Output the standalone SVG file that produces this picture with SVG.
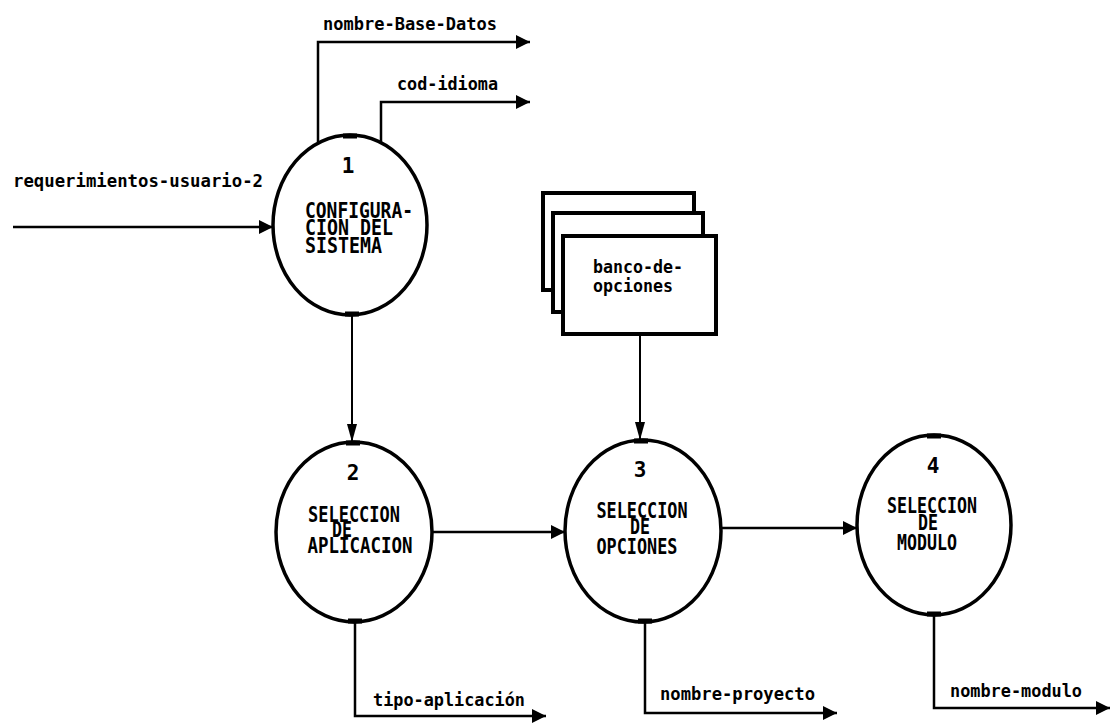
<svg xmlns="http://www.w3.org/2000/svg" width="1112" height="723" viewBox="0 0 1112 723">
<defs>
<style>
.bg{fill:#fff}
.proc{fill:#fff;stroke:#000;stroke-width:3.5}
.tab{fill:none;stroke:#000;stroke-width:5}
.store{fill:#fff;stroke:#000;stroke-width:4}
.flow{fill:none;stroke:#000;stroke-width:2.5}
.thin{fill:none;stroke:#000;stroke-width:2}
.lbl{font-family:"DejaVu Sans Mono","Liberation Mono",monospace;font-weight:bold;font-size:18px;fill:#000}
.ptx{font-family:"DejaVu Sans Mono","Liberation Mono",monospace;font-weight:bold;font-size:21px;fill:#000}
.mid{text-anchor:middle}
</style>
<marker id="ah" markerUnits="userSpaceOnUse" markerWidth="16" markerHeight="16" refX="14" refY="7" orient="auto">
<path d="M0,0 L14,7 L0,14 Z" fill="#000"/>
</marker>
<marker id="ahn" markerUnits="userSpaceOnUse" markerWidth="20" markerHeight="12" refX="18" refY="5" orient="auto">
<path d="M0,0 L18,5 L0,10 Z" fill="#000"/>
</marker>
</defs>
<rect class="bg" x="0" y="0" width="1112" height="723"/>

<g id="connectors">
<path class="flow" d="M318,142 V42 H530" marker-end="url(#ah)"/>
<path class="flow" d="M381,143 V102 H530" marker-end="url(#ah)"/>
<path class="flow" d="M13,227 H273" marker-end="url(#ah)"/>
<path class="thin" d="M352,315 V442" marker-end="url(#ahn)"/>
<path class="flow" d="M432,532 H565" marker-end="url(#ah)"/>
<path class="thin" d="M640,334 V440" marker-end="url(#ahn)"/>
<path class="flow" d="M721,528 H857" marker-end="url(#ah)"/>
<path class="flow" d="M355,622 V716 H546" marker-end="url(#ah)"/>
<path class="flow" d="M645,621 V713 H837" marker-end="url(#ah)"/>
<path class="flow" d="M934,615 V708 H1110" marker-end="url(#ah)"/>
<text class="lbl" x="323" y="30" textLength="174" lengthAdjust="spacingAndGlyphs">nombre-Base-Datos</text>
<text class="lbl" x="397" y="90" textLength="101" lengthAdjust="spacingAndGlyphs">cod-idioma</text>
<text class="lbl" x="13" y="187" textLength="250" lengthAdjust="spacingAndGlyphs">requerimientos-usuario-2</text>
<text class="lbl" x="373" y="706" textLength="152" lengthAdjust="spacingAndGlyphs">tipo-aplicación</text>
<text class="lbl" x="660" y="700" textLength="155" lengthAdjust="spacingAndGlyphs">nombre-proyecto</text>
<text class="lbl" x="950" y="697" textLength="132" lengthAdjust="spacingAndGlyphs">nombre-modulo</text>
</g>

<g id="store-banco">
<rect class="store" x="543" y="193" width="151" height="97"/>
<rect class="store" x="553" y="213" width="150" height="99"/>
<rect class="store" x="563" y="236" width="153" height="98"/>
<text class="lbl" x="593" y="273" textLength="90" lengthAdjust="spacingAndGlyphs">banco-de-</text>
<text class="lbl" x="593" y="292" textLength="80" lengthAdjust="spacingAndGlyphs">opciones</text>
</g>

<g id="proc-1">
<ellipse class="proc" cx="350" cy="225" rx="77" ry="90"/>
<path class="tab" d="M343,136 H357 M345,314 H359"/>
<text class="ptx mid" x="348" y="173">1</text>
<text class="ptx" x="305" y="218" textLength="108" lengthAdjust="spacingAndGlyphs">CONFIGURA-</text>
<text class="ptx" x="305" y="235" textLength="88" lengthAdjust="spacingAndGlyphs">CION DEL</text>
<text class="ptx" x="305" y="253" textLength="77" lengthAdjust="spacingAndGlyphs">SISTEMA</text>
</g>

<g id="proc-2">
<ellipse class="proc" cx="354" cy="532" rx="78" ry="90"/>
<path class="tab" d="M346,443 H360 M348,621 H362"/>
<text class="ptx mid" x="353" y="480">2</text>
<text class="ptx mid" x="354" y="522" textLength="92" lengthAdjust="spacingAndGlyphs">SELECCION</text>
<text class="ptx mid" x="342" y="537" textLength="20" lengthAdjust="spacingAndGlyphs">DE</text>
<text class="ptx mid" x="360" y="553" textLength="105" lengthAdjust="spacingAndGlyphs">APLICACION</text>
</g>

<g id="proc-3">
<ellipse class="proc" cx="643" cy="531" rx="78" ry="91"/>
<path class="tab" d="M634,441 H648 M638,621 H652"/>
<text class="ptx mid" x="640" y="477">3</text>
<text class="ptx mid" x="642" y="518" textLength="91" lengthAdjust="spacingAndGlyphs">SELECCION</text>
<text class="ptx mid" x="640" y="534" textLength="20" lengthAdjust="spacingAndGlyphs">DE</text>
<text class="ptx mid" x="637" y="554" textLength="81" lengthAdjust="spacingAndGlyphs">OPCIONES</text>
</g>

<g id="proc-4">
<ellipse class="proc" cx="934" cy="525" rx="77" ry="90"/>
<path class="tab" d="M927,436 H941 M927,614 H941"/>
<text class="ptx mid" x="933" y="473">4</text>
<text class="ptx mid" x="932" y="513" textLength="90" lengthAdjust="spacingAndGlyphs">SELECCION</text>
<text class="ptx mid" x="928" y="530" textLength="20" lengthAdjust="spacingAndGlyphs">DE</text>
<text class="ptx mid" x="927" y="550" textLength="60" lengthAdjust="spacingAndGlyphs">MODULO</text>
</g>
</svg>
